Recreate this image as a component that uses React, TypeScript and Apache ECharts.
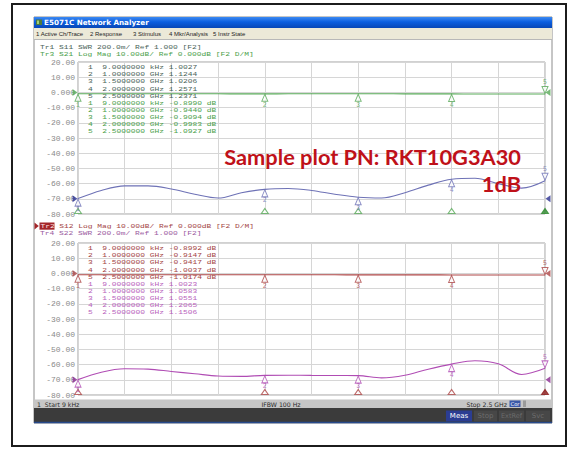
import React, { useEffect, useRef } from "react";
import * as echarts from "echarts";

// ---- data (frequencies in MHz) ----
const freqMHz = [0.009, 125, 250, 375, 500, 625, 750, 875, 1000, 1125, 1250, 1375, 1500, 1625, 1750, 1875, 2000, 2125, 2250, 2375, 2500];
const s11Swr = [1.0027, 1.11, 1.17, 1.17, 1.13, 1.06, 1.01, 1.08, 1.1244, 1.135, 1.11, 1.06, 1.0206, 1.01, 1.08, 1.18, 1.2571, 1.27, 1.2, 1.14, 1.2371];
const s21Db = [-0.899, -0.9, -0.905, -0.91, -0.915, -0.925, -0.935, -0.94, -0.944, -0.935, -0.925, -0.915, -0.9094, -0.925, -0.945, -0.97, -0.9983, -1.02, -1.045, -1.07, -1.0927];
const s12Db = [-0.8992, -0.9, -0.902, -0.905, -0.907, -0.909, -0.911, -0.913, -0.9147, -0.92, -0.927, -0.935, -0.9417, -0.955, -0.97, -0.987, -1.0037, -1.008, -1.012, -1.015, -1.0174];
const s22Swr = [1.0023, 1.1, 1.145, 1.14, 1.11, 1.08, 1.05, 1.045, 1.0583, 1.06, 1.058, 1.056, 1.0551, 1.025, 1.06, 1.14, 1.2065, 1.25, 1.21, 1.07, 1.1506];

const markerFreqs = [0.009, 1000, 1500, 2000, 2500];
const markerFreqText = ["9.0000000 kHz", "1.0000000 GHz", "1.5000000 GHz", "2.0000000 GHz", "2.5000000 GHz"];
const s11Markers = [1.0027, 1.1244, 1.0206, 1.2571, 1.2371];
const s21Markers = [-0.899, -0.944, -0.9094, -0.9983, -1.0927];
const s12Markers = [-0.8992, -0.9147, -0.9417, -1.0037, -1.0174];
const s22Markers = [1.0023, 1.0583, 1.0551, 1.2065, 1.1506];

const dbMin = -80, dbMax = 20, dbStep = 10;
const swrMin = 0.8, swrMax = 2.8, swrRef = 1.0, dbRef = 0;
const fStart = 0, fStop = 2500, fStep = 250;

const headerTop = ["Tr1 S11 SWR 200.0m/ Ref 1.000 [F2]", "Tr3 S21 Log Mag 10.00dB/ Ref 0.000dB [F2 D/M]"];
const headerBottom = ["S12 Log Mag 10.00dB/ Ref 0.000dB [F2 D/M]", "Tr4 S22 SWR 200.0m/ Ref 1.000 [F2]"];
const menuItems = ["1 Active Ch/Trace", "2 Response", "3 Stimulus", "4 Mkr/Analysis", "5 Instr State"];

// ---- styles ----
const C_BLUE = "#6e72b6";
const C_GREEN = "#58a958";
const C_RED = "#ad4646";
const C_MAG = "#b04cb4";
const T_TR1 = "#4a6458";
const T_TR3 = "#4aa04a";
const T_TR2 = "#a34444";
const T_TR4 = "#9a5aa0";
const T_TR4ROW = "#b862bc";
const MONO = "Liberation Mono";
const SANS = "DejaVu Sans";
const NARROW = "Liberation Sans";
const TRI_DOWN = "path://M0,0 L10,0 L5,10 Z";
const TRI_RIGHT = "path://M0,0 L10,5 L0,10 Z";
const TRI_LEFT = "path://M10,0 L0,5 L10,10 Z";

function txt(x: number, y: number, text: string, fill: string, size: number, o: any = {}) {
  return {
    type: "text", x, y, z: 30, silent: true, scaleX: o.sx || 1,
    style: {
      text, fill, fontSize: size, fontFamily: o.family || MONO, fontWeight: o.weight || "normal",
      align: o.align || "left", verticalAlign: "middle",
    },
  };
}
// compact monospace line (narrow height, widened to the instrument's character pitch)
function mtxt(x: number, y: number, text: string, fill: string) {
  return txt(x, y, text, fill, 6.1, { sx: 1.3 });
}
function rect(x: number, y: number, w: number, h: number, fill: any, z = -10, stroke?: string, lw = 1) {
  return { type: "rect", z, silent: true, shape: { x, y, width: w, height: h }, style: { fill, stroke: stroke || null, lineWidth: lw } };
}

function trace(xi: number, yi: number, vals: number[], color: string) {
  return {
    type: "line", xAxisIndex: xi, yAxisIndex: yi, smooth: 0.35, showSymbol: false, silent: true, z: 3,
    data: freqMHz.map((f, i) => [f, vals[i]]),
    lineStyle: { color, width: 1.1 },
  };
}
function markers(xi: number, yi: number, vals: number[], color: string) {
  return {
    type: "scatter", xAxisIndex: xi, yAxisIndex: yi, z: 6, silent: true, clip: false,
    data: markerFreqs.map((f, i) => {
      const last = i === markerFreqs.length - 1;
      return {
        value: [f, vals[i]],
        symbol: last ? TRI_DOWN : "triangle",
        symbolOffset: last ? [0, -4] : [0, 4],
        label: { show: true, position: last ? "top" : "bottom", distance: 0, formatter: String(i + 1) },
      };
    }),
    symbolSize: [6, 7],
    itemStyle: { color: "#ffffff", borderColor: color, borderWidth: 1 },
    label: { color, fontSize: 6.5, fontFamily: MONO, lineHeight: 6.5 },
  };
}
function stimulus(xi: number, yi: number, color: string, fillLast: string) {
  return {
    type: "scatter", xAxisIndex: xi, yAxisIndex: yi, z: 6, silent: true, clip: false,
    data: markerFreqs.map((f, i) => ({
      value: [f, dbMin],
      itemStyle: i === markerFreqs.length - 1 ? { color: fillLast, borderColor: fillLast } : { color: "#fff", borderColor: color },
    })),
    symbol: "triangle", symbolSize: [7, 5], symbolOffset: [0, -3],
    itemStyle: { borderWidth: 1 },
  };
}
function refTri(xi: number, yi: number, x: number, v: number, color: string, left: boolean) {
  return {
    type: "scatter", xAxisIndex: xi, yAxisIndex: yi, z: 7, silent: true, clip: false,
    data: [[x, v]], symbol: left ? TRI_RIGHT : TRI_LEFT, symbolSize: [5, 7],
    symbolOffset: [left ? -3 : 3, 0], itemStyle: { color },
  };
}

function tableRows(x: number, y0: number, step: number, vals: number[], unit: string, color: string, start: number) {
  return vals.map((v, i) => mtxt(x, y0 + (start + i) * step, `${i + 1}  ${markerFreqText[i]} ${v.toFixed(4)}${unit}`, color));
}

export default function App() {
  const ref = useRef<HTMLDivElement>(null);
  useEffect(() => {
    if (!ref.current) return;
    const chart = echarts.init(ref.current, null, { renderer: "svg" });

    const gridCommon = { left: 78, width: 467, height: 152, show: true, borderColor: "#a2a2a2", borderWidth: 1, backgroundColor: "transparent" };
    const xAx = (gi: number) => ({
      type: "value", gridIndex: gi, min: fStart, max: fStop, interval: fStep,
      axisLabel: { show: false }, axisTick: { show: false }, axisLine: { show: false },
      splitLine: { show: true, lineStyle: { color: "#d6d6d6", width: 1 } },
    });
    const dbAx = (gi: number) => ({
      type: "value", gridIndex: gi, min: dbMin, max: dbMax, interval: dbStep,
      axisLine: { show: false }, axisTick: { show: false },
      axisLabel: {
        show: true, margin: 3, fontSize: 8, fontFamily: MONO, color: "#8a8a8a",
        formatter: (v: number) => (v === 0 ? "0.000" : v.toFixed(2)),
      },
      splitLine: { show: true, lineStyle: { color: "#d6d6d6", width: 1 } },
    });
    const swrAx = (gi: number) => ({ type: "value", gridIndex: gi, min: swrMin, max: swrMax, show: false, splitLine: { show: false } });

    const blueGrad = new echarts.graphic.LinearGradient(0, 0, 0, 1, [
      { offset: 0, color: "#3d8af2" }, { offset: 0.45, color: "#0c5fe0" }, { offset: 1, color: "#0847b6" },
    ]);

    const menuX = [36, 90, 133, 169, 213];
    const graphic: any[] = [
      rect(12, 4, 554, 442, "#ffffff", -30, "#1c1c1c", 2),
      rect(34, 17, 518, 406, "#ffffff", -29, "#8c8c8c", 1),
      rect(34, 17, 518, 11, blueGrad, -28),
      rect(36, 19.5, 6, 5.5, "#4f7a3c", -27),
      rect(37, 20.5, 2, 3.5, "#9fd07a", -26),
      txt(44, 22.8, "E5071C Network Analyzer", "#ffffff", 7.2, { family: SANS, weight: "bold" }),
      rect(34, 28, 518, 11, "#ece9d8", -28),
      { type: "line", z: -27, silent: true, shape: { x1: 34, y1: 39.5, x2: 552, y2: 39.5 }, style: { stroke: "#b8b8b8", lineWidth: 1 } },
      ...menuItems.map((m, i) => txt(menuX[i], 33.8, m, "#1e1e1e", 6, { family: NARROW })),
      // status bar
      rect(34, 399.5, 518, 8.5, "#c6c6c6", -28),
      txt(37, 404, "1  Start 9 kHz", "#2a2a2a", 6.2, { family: SANS }),
      txt(281, 404, "IFBW 100 Hz", "#2a2a2a", 6.2, { family: SANS, align: "center" }),
      txt(507, 404, "Stop 2.5 GHz", "#2a2a2a", 6.2, { family: SANS, align: "right" }),
      rect(509.5, 400.5, 11, 6.5, "#3a58a8", -27),
      txt(515, 404, "Cor", "#ffffff", 5.2, { family: SANS, align: "center" }),
      rect(523, 400.5, 3, 6.5, "#9a9a9a", -27),
      rect(34, 408, 518, 14, "#3b3b3b", -28),
      { type: "line", z: -27, silent: true, shape: { x1: 34, y1: 422.5, x2: 552, y2: 422.5 }, style: { stroke: "#274a8c", lineWidth: 1.5 } },
      rect(446, 410.5, 26, 11, "#2b3d92", -27),
      txt(459, 416.3, "Meas", "#ffffff", 7, { family: SANS, align: "center" }),
      rect(474, 410.5, 23, 11, "#474747", -27),
      txt(485.5, 416.3, "Stop", "#6c6c6c", 7, { family: SANS, align: "center" }),
      rect(499, 410.5, 25, 11, "#474747", -27),
      txt(511.5, 416.3, "ExtRef", "#6c6c6c", 6.5, { family: SANS, align: "center" }),
      rect(526, 410.5, 24, 11, "#474747", -27),
      txt(538, 416.3, "Svc", "#6c6c6c", 7, { family: SANS, align: "center" }),
      // headers
      mtxt(40, 47, headerTop[0], T_TR1),
      mtxt(40, 54.2, headerTop[1], T_TR3),
      { type: "polygon", z: 30, silent: true, shape: { points: [[34.5, 222.5], [38.8, 226], [34.5, 229.5]] }, style: { fill: "#a3262a" } },
      rect(39.5, 222.5, 15, 7.2, "#a3262a", 29),
      mtxt(40.5, 226.2, "Tr2", "#ffe0e0"),
      mtxt(59.2, 226.2, headerBottom[0], T_TR2),
      mtxt(40, 233.4, headerBottom[1], T_TR4),
      // marker tables
      ...tableRows(88, 67.5, 7.1, s11Markers, "", T_TR1, 0),
      ...tableRows(88, 67.5, 7.1, s21Markers, " dB", T_TR3, 5),
      ...tableRows(88, 248.5, 7.1, s12Markers, " dB", T_TR2, 0),
      ...tableRows(88, 248.5, 7.1, s22Markers, "", T_TR4ROW, 5),
      // annotation
      txt(521, 156, "Sample plot PN: RKT10G3A30", "#bf1119", 21.8, { family: "Lato", weight: "bold", align: "right" }),
      txt(521, 183, "1dB", "#bf1119", 21.8, { family: "Lato", weight: "bold", align: "right" }),
    ];

    chart.setOption({
      animation: false,
      backgroundColor: "#ffffff",
      grid: [{ ...gridCommon, top: 62 }, { ...gridCommon, top: 243 }],
      xAxis: [xAx(0), xAx(1)],
      yAxis: [dbAx(0), swrAx(0), dbAx(1), swrAx(1)],
      graphic,
      series: [
        trace(0, 1, s11Swr, C_BLUE),
        trace(0, 0, s21Db, C_GREEN),
        trace(1, 2, s12Db, C_RED),
        trace(1, 3, s22Swr, C_MAG),
        markers(0, 1, s11Markers, C_BLUE),
        markers(0, 0, s21Markers, C_GREEN),
        markers(1, 2, s12Markers, C_RED),
        markers(1, 3, s22Markers, C_MAG),
        stimulus(0, 0, C_GREEN, "#2f8a2f"),
        stimulus(1, 2, C_RED, "#8c1c1c"),
        refTri(0, 0, fStart, dbRef, C_GREEN, true),
        refTri(0, 1, fStart, swrRef, "#2a2f90", true),
        refTri(0, 0, fStop, dbRef, C_GREEN, false),
        refTri(0, 1, fStop, swrRef, "#2a2f90", false),
        refTri(1, 2, fStart, dbRef, C_RED, true),
        refTri(1, 3, fStart, swrRef, "#8a2a90", true),
        refTri(1, 2, fStop, dbRef, C_RED, false),
        refTri(1, 3, fStop, swrRef, "#8a2a90", false),
      ],
    });
    return () => chart.dispose();
  }, []);
  return <div ref={ref} style={{ position: "absolute", left: 0, top: 0, width: 569, height: 449 }} />;
}
